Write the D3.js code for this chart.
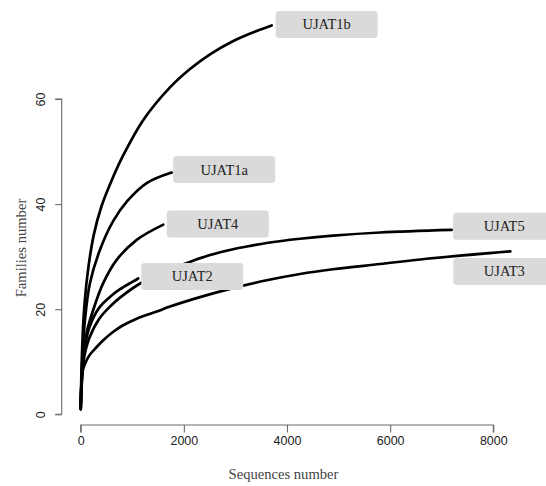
<!DOCTYPE html>
<html>
<head>
<meta charset="utf-8">
<script src="https://cdn.jsdelivr.net/npm/d3@7"></script>
<style>
  html, body { margin: 0; padding: 0; background: #fff; }
  svg { display: block; }
</style>
</head>
<body>
<svg id="chart" width="546" height="486"></svg>
<script>
// ---- data ----
const seriesNames = ["UJAT1b", "UJAT1a", "UJAT4", "UJAT2", "UJAT5", "UJAT3"];

const UJAT1b_x = [0, 20, 60, 130, 250, 400, 600, 826, 1214, 1731, 2119, 2507, 2950, 3400, 3703];
const UJAT1b_y = [1, 10, 19, 26.5, 34, 39.5, 44.5, 49.3, 56.0, 62.2, 65.7, 68.5, 71.0, 72.9, 74.0];

const UJAT1a_x = [0, 25, 83, 180, 374, 632, 905, 1280, 1764];
const UJAT1a_y = [1, 9, 18, 25, 31.3, 36.8, 40.6, 44.0, 46.0];

const UJAT4_x = [0, 30, 116, 244, 438, 698, 1086, 1601];
const UJAT4_y = [1, 8, 15.5, 19.9, 25.0, 29.4, 33.2, 36.1];

const UJAT2_x = [0, 20, 60, 167, 360, 600, 762, 1000, 1115];
const UJAT2_y = [1, 7, 11.5, 16.5, 20.3, 22.6, 23.8, 25.2, 25.85];

const UJAT5_x = [0, 20, 60, 167, 360, 600, 762, 1136, 1600, 2086, 2507, 2953, 3315, 3606, 4252, 4892, 5803, 7193];
const UJAT5_y = [1, 6.5, 10.5, 14.5, 18.2, 20.8, 22.2, 24.8, 27.1, 28.9, 30.3, 31.4, 32.1, 32.6, 33.4, 34.0, 34.6, 35.1];

const UJAT3_x = [0, 20, 45, 100, 167, 310, 427, 632, 814, 1086, 1460, 1731, 2313, 2953, 3606, 4252, 4892, 5803, 6708, 8330];
const UJAT3_y = [1, 5.5, 8.5, 10.0, 11.2, 12.8, 14.0, 15.7, 16.9, 18.2, 19.5, 20.5, 22.3, 24.0, 25.5, 26.7, 27.6, 28.6, 29.6, 31.0];

const xTicks = [0, 2000, 4000, 6000, 8000];
const yTicks = [0, 20, 40, 60];
const xTitle = "Sequences number";
const yTitle = "Families number";

// ---- build series table ----
const series = [
  { name: "UJAT1b", xs: UJAT1b_x, ys: UJAT1b_y },
  { name: "UJAT1a", xs: UJAT1a_x, ys: UJAT1a_y },
  { name: "UJAT4",  xs: UJAT4_x,  ys: UJAT4_y },
  { name: "UJAT2",  xs: UJAT2_x,  ys: UJAT2_y },
  { name: "UJAT5",  xs: UJAT5_x,  ys: UJAT5_y },
  { name: "UJAT3",  xs: UJAT3_x,  ys: UJAT3_y }
].map(s => ({ name: s.name, pts: s.xs.map((x, i) => [x, s.ys[i]]) }));

// label box placement relative to each curve end (styling)
const labelStyle = {
  UJAT1b: { dx: 4, dy: -1 },
  UJAT1a: { dx: 1.5, dy: -3 },
  UJAT4:  { dx: 3.5, dy: -0.5 },
  UJAT2:  { dx: 3, dy: -2 },
  UJAT5:  { dx: 1.5, dy: -3.5 },
  UJAT3:  { dx: -57, dy: 20 }
};

// ---- scales ----
const svg = d3.select("#chart");
const x = d3.scaleLinear().domain([0, 8000]).range([80.7, 493.3]);
const y = d3.scaleLinear().domain([0, 60]).range([414.3, 99]);

const axisColor = "#6a6a6a";
const tickFont = "'Liberation Sans', Arial, Helvetica, sans-serif";
const serif = "'Liberation Serif', 'Times New Roman', Times, serif";

// ---- x axis (R base style) ----
const xAxis = d3.axisBottom(x).tickValues(xTicks).tickSize(7.5).tickPadding(4).tickFormat(d3.format("d"));
const gx = svg.append("g").attr("transform", "translate(0,425)").call(xAxis);
gx.select(".domain").attr("stroke", axisColor).attr("stroke-width", 1.1)
  .attr("d", `M${x(0)},7.5V0H${x(8000)}V7.5`);
gx.selectAll(".tick line").attr("stroke", axisColor).attr("stroke-width", 1.1);
gx.selectAll(".tick text").attr("font-family", tickFont).attr("font-size", 12.5).attr("fill", "#222");

// ---- y axis ----
const yAxis = d3.axisLeft(y).tickValues(yTicks).tickSize(6.5).tickPadding(0);
const gy = svg.append("g").attr("transform", "translate(61.7,0)").call(yAxis);
gy.select(".domain").attr("stroke", axisColor).attr("stroke-width", 1.1)
  .attr("d", `M-6.5,${y(60)}H0V${y(0)}H-6.5`);
gy.selectAll(".tick line").attr("stroke", axisColor).attr("stroke-width", 1.1);
gy.selectAll(".tick text")
  .attr("font-family", tickFont).attr("font-size", 12.5).attr("fill", "#222")
  .attr("x", null).attr("dy", null)
  .attr("text-anchor", "middle")
  .attr("transform", "translate(-16.5,0) rotate(-90)");

// ---- titles ----
svg.append("text")
  .attr("x", 283.5).attr("y", 479)
  .attr("text-anchor", "middle")
  .attr("font-family", serif).attr("font-size", 14.6).attr("fill", "#444")
  .text(xTitle);
svg.append("text")
  .attr("transform", "translate(25.5,248) rotate(-90)")
  .attr("text-anchor", "middle")
  .attr("font-family", serif).attr("font-size", 14.6).attr("fill", "#444")
  .text(yTitle);

// ---- curves ----
const line = d3.line().x(d => x(d[0])).y(d => y(d[1])).curve(d3.curveCatmullRom.alpha(0.5));
svg.append("g").selectAll("path").data(series).join("path")
  .attr("d", d => line(d.pts))
  .attr("fill", "none").attr("stroke", "#000").attr("stroke-width", 2.7)
  .attr("stroke-linecap", "round");

// ---- labels (boxes drawn over lines) ----
const boxW = 102, boxH = 27;
const lab = svg.append("g").selectAll("g").data(series).join("g")
  .attr("transform", d => {
    const e = d.pts[d.pts.length - 1];
    const s = labelStyle[d.name];
    return `translate(${x(e[0]) + s.dx},${y(e[1]) + s.dy - boxH / 2})`;
  });
lab.append("rect")
  .attr("width", boxW).attr("height", boxH).attr("rx", 3.5)
  .attr("fill", "#dadada");
lab.append("text")
  .attr("x", boxW / 2).attr("y", boxH / 2 + 5)
  .attr("text-anchor", "middle")
  .attr("font-family", serif).attr("font-size", 14.5).attr("fill", "#222")
  .text(d => d.name);
</script>
</body>
</html>
